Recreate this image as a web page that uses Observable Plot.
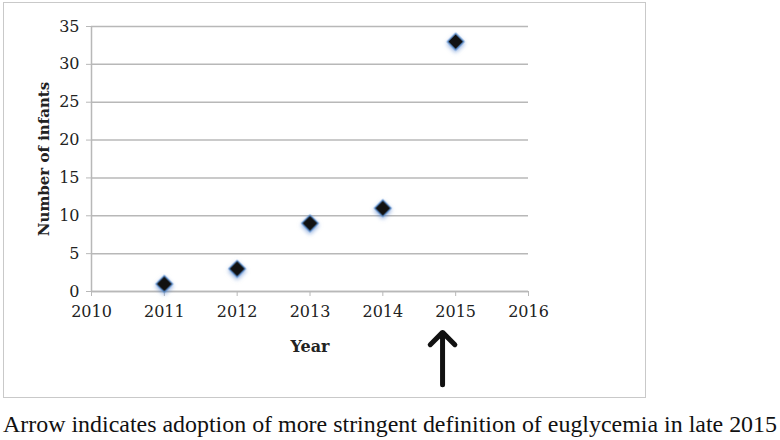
<!DOCTYPE html>
<html><head><meta charset="utf-8">
<script src="https://cdn.jsdelivr.net/npm/d3@7"></script>
<script src="https://cdn.jsdelivr.net/npm/@observablehq/plot@0.6"></script>
<style>
body{margin:0;background:#fff;}
#wrap{position:relative;width:780px;height:440px;overflow:hidden;}
#box{position:absolute;left:3px;top:2px;width:641px;height:394px;border:1.5px solid #c9c9c9;}
#chart{position:absolute;left:0;top:0;}
#cap{position:absolute;left:0;top:400px;}
</style></head>
<body><div id="wrap"><div id="box"></div><div id="chart"></div><svg id="cap" width="780" height="40"></svg></div>
<script>
const years = [2011, 2012, 2013, 2014, 2015];
const infants = [1, 3, 9, 11, 33];
const xTicks = [2010, 2011, 2012, 2013, 2014, 2015, 2016];
const yTicks = [0, 5, 10, 15, 20, 25, 30, 35];
const xTitle = "Year";
const yTitle = "Number of infants";
const arrowX = [2014.82];
const arrowFrom = [-12.3];
const arrowTo = [-5.4];
const caption = "Arrow indicates adoption of more stringent definition of euglycemia in late 2015";

const data = years.map((y, i) => ({year: y, n: infants[i]}));
const arrows = arrowX.map((x, i) => ({x, y1: arrowFrom[i], y2: arrowTo[i]}));

const plot = Plot.plot({
  width: 780, height: 400,
  marginLeft: 91, marginRight: 252, marginTop: 26, marginBottom: 109,
  style: {fontFamily: "DejaVu Serif", fontSize: "16px", color: "#222", background: "transparent"},
  x: {domain: [2010, 2016]},
  y: {domain: [0, 35]},
  marks: [
    Plot.gridY(yTicks, {stroke: "#b8b8b8", strokeOpacity: 1, strokeWidth: 1.5}),
    Plot.ruleX([2010], {stroke: "#b8b8b8", strokeWidth: 1.5}),
    Plot.ruleY([0], {stroke: "#b8b8b8", strokeWidth: 1.5}),
    Plot.axisY({ticks: yTicks, tickSize: 5, tickPadding: 7, stroke: "#b8b8b8", fill: "#222",
      label: yTitle, labelArrow: "none", labelAnchor: "center", labelOffset: 53}),
    Plot.axisX({ticks: xTicks, tickFormat: d => String(d), tickSize: 5, tickPadding: 9, stroke: "#b8b8b8", fill: "#222",
      label: xTitle, labelArrow: "none", labelAnchor: "center", labelOffset: 60}),
    Plot.arrow(arrows, {x1: "x", x2: "x", y1: "y1", y2: "y2", stroke: "#111", strokeWidth: 5, headLength: 18, headAngle: 90}),
    Plot.dot(data, {x: "year", y: "n", symbol: "square", r: 6.6, rotate: 45, fill: "#111", stroke: "#5b8fd0", strokeWidth: 1.2})
  ]
});
document.getElementById("chart").appendChild(plot);
const sel = d3.select(plot);
sel.selectAll("[aria-label='x-axis tick label'], [aria-label='y-axis tick label']").attr("font-size", 16)
  .selectAll("text").attr("font-size", 16);
sel.selectAll("[aria-label='x-axis label']").attr("font-weight", "bold").attr("font-size", 16).selectAll("text").text(xTitle).attr("font-size", 16);
sel.selectAll("[aria-label='y-axis label']").attr("font-weight", "bold").attr("font-size", 15).selectAll("text").text(yTitle).attr("font-size", 15);
sel.selectAll("[aria-label='dot']").style("filter", "drop-shadow(0px 2px 2px rgba(70,120,200,0.6))");

d3.select("#cap").append("text")
  .attr("x", 3).attr("y", 32)
  .attr("font-family", "Liberation Serif").attr("font-size", 24).attr("fill", "#111")
  .attr("textLength", 774).attr("lengthAdjust", "spacingAndGlyphs")
  .text(caption);
</script></body></html>
